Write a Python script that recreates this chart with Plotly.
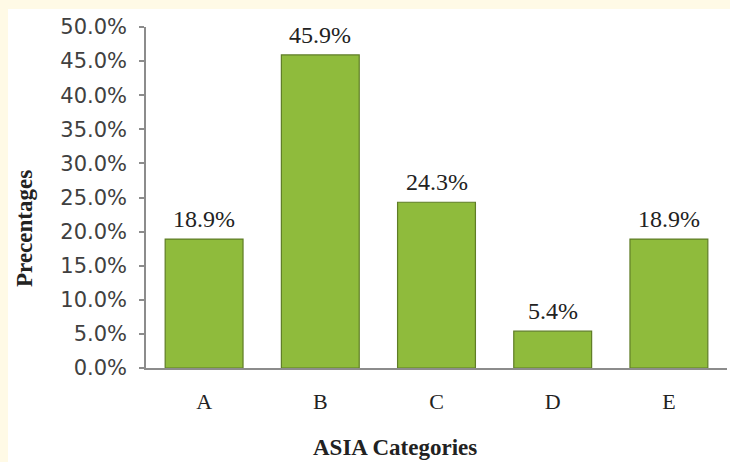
import plotly.graph_objects as go

categories = ["A", "B", "C", "D", "E"]
percentages = [18.9, 45.9, 24.3, 5.4, 18.9]
y_ticks = [0, 5, 10, 15, 20, 25, 30, 35, 40, 45, 50]
y_tick_labels = [f"{v:.1f}%" for v in y_ticks]
bar_labels = [f"{v:.1f}%" for v in percentages]

serif = "Liberation Serif, Times New Roman, serif"

fig = go.Figure()
fig.add_trace(go.Bar(
    x=categories,
    y=percentages,
    cliponaxis=False,
    marker=dict(color="#8fbb3c", line=dict(color="#5f7d26", width=1.2)),
    width=0.67,
))

label_annotations = [
    dict(x=c, y=v, text=t, xref="x", yref="y", showarrow=False,
         xanchor="center", yanchor="bottom", yshift=5,
         font=dict(family=serif, size=24, color="#222222"))
    for c, v, t in zip(categories, percentages, bar_labels)
]

fig.update_layout(
    width=730, height=462,
    margin=dict(l=146, r=3, t=27, b=94),
    paper_bgcolor="#fffae6",
    plot_bgcolor="rgba(0,0,0,0)",
    showlegend=False,
    shapes=[dict(type="rect", xref="paper", yref="paper",
                 x0=-0.2375, x1=1.02, y0=-0.30, y1=1.0528,
                 fillcolor="white", line=dict(width=0), layer="below")],
    annotations=label_annotations + [
        dict(text="<b>ASIA Categories</b>", xref="paper", yref="paper",
             x=0.4294, y=-0.2346, xanchor="center", yanchor="middle", showarrow=False,
             font=dict(family=serif, size=23, color="#222222")),
        dict(text="<b>Precentages</b>", xref="paper", yref="paper",
             x=-0.2083, y=0.4106, xanchor="center", yanchor="middle", showarrow=False,
             textangle=-90,
             font=dict(family=serif, size=23, color="#222222")),
    ],
)

fig.update_yaxes(
    range=[0, 50], tickvals=y_ticks, ticktext=y_tick_labels,
    showgrid=False, zeroline=False,
    showline=True, linecolor="#8c8c8c", linewidth=1.5,
    ticks="outside", ticklen=5, tickcolor="#8c8c8c", tickwidth=1.5,
    ticklabelstandoff=8,
    tickfont=dict(family="DejaVu Sans, sans-serif", size=21, color="#404040"),
)
fig.update_xaxes(
    showgrid=False, showline=True, linecolor="#8c8c8c", linewidth=1.5,
    ticks="", ticklabelstandoff=13,
    tickfont=dict(family=serif, size=22, color="#222222"),
)

fig.write_html("out.html")
